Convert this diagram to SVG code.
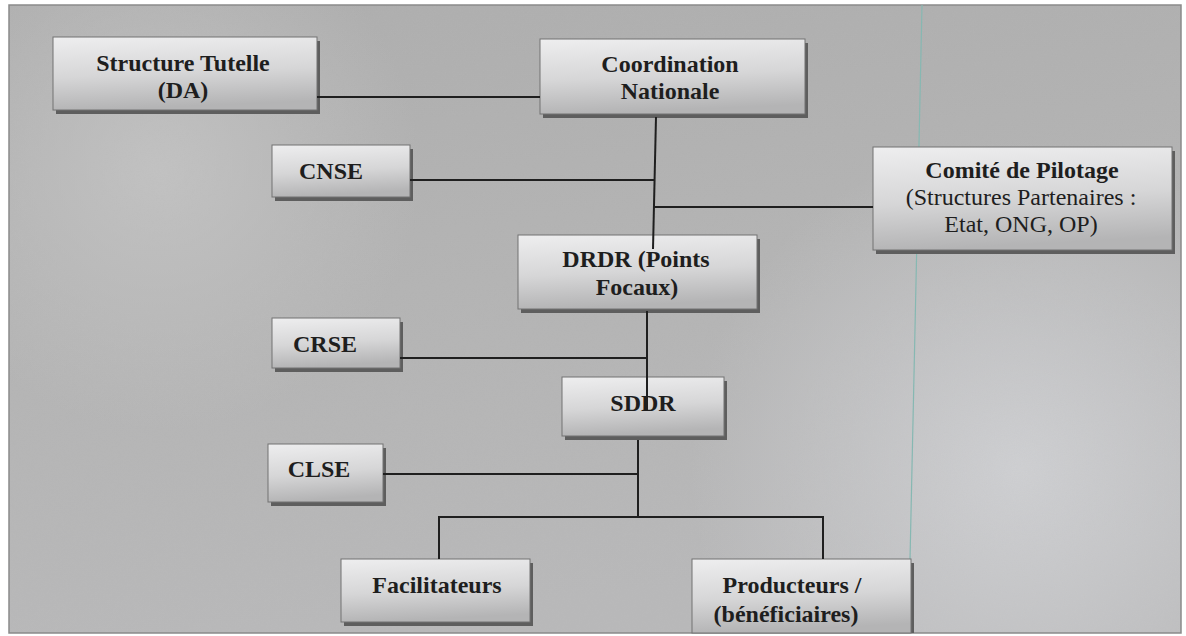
<svg xmlns="http://www.w3.org/2000/svg" width="1186" height="636" viewBox="0 0 1186 636">
  <defs>
    <linearGradient id="bg" x1="0" y1="0" x2="0.2" y2="1">
      <stop offset="0" stop-color="#adadad"/>
      <stop offset="0.5" stop-color="#b3b3b3"/>
      <stop offset="1" stop-color="#b8b8b9"/>
    </linearGradient>
    <radialGradient id="bglight" cx="1020" cy="470" r="330" gradientUnits="userSpaceOnUse">
      <stop offset="0" stop-color="#d2d3d6" stop-opacity="0.9"/>
      <stop offset="1" stop-color="#d2d3d6" stop-opacity="0"/>
    </radialGradient>
    <radialGradient id="bgleft" cx="160" cy="170" r="260" gradientUnits="userSpaceOnUse">
      <stop offset="0" stop-color="#c6c6c6" stop-opacity="0.8"/>
      <stop offset="1" stop-color="#c6c6c6" stop-opacity="0"/>
    </radialGradient>
    <linearGradient id="boxfill" x1="0" y1="0" x2="0.15" y2="1">
      <stop offset="0" stop-color="#eeeeef"/>
      <stop offset="0.55" stop-color="#d6d6d7"/>
      <stop offset="1" stop-color="#b4b4b5"/>
    </linearGradient>
    <filter id="grain" x="0" y="0" width="100%" height="100%">
      <feTurbulence type="fractalNoise" baseFrequency="0.9" numOctaves="2" seed="3" result="n"/>
      <feColorMatrix type="matrix" values="0 0 0 0 0.5  0 0 0 0 0.5  0 0 0 0 0.5  0 0 0 0.18 0" in="n"/>
      <feComposite operator="in" in2="SourceGraphic"/>
    </filter>
  </defs>
  <style>
    .box { fill: url(#boxfill); stroke: #727272; stroke-width: 1; }
    .shadow { fill: #5e5e5e; }
    .t { font-family: "Liberation Serif", "Times New Roman", serif; font-size: 24px; fill: #1e1e1e; text-anchor: middle; }
    .b { font-weight: bold; }
    .conn { stroke: #1f1f1f; stroke-width: 2; fill: none; }
  </style>

  <rect x="0" y="0" width="1186" height="636" fill="#ffffff"/>
  <g id="background">
    <rect x="9" y="5" width="1172" height="628" fill="url(#bg)"/>
    <rect x="9" y="5" width="1172" height="628" fill="url(#bgleft)"/>
    <rect x="9" y="5" width="1172" height="628" fill="url(#bglight)"/>
    <rect x="9" y="5" width="1172" height="628" fill="#808080" filter="url(#grain)"/>
    <rect x="9" y="5" width="1172" height="628" fill="none" stroke="#8a8a8a" stroke-width="1.5"/>
    <line x1="922" y1="5" x2="910" y2="560" stroke="#86b8b2" stroke-width="1.2"/>
  </g>

  <g id="node-structure-tutelle">
    <rect class="shadow" x="56" y="41" width="264" height="73"/>
    <rect class="box" x="53" y="37" width="264" height="73"/>
    <text class="t b" x="183" y="71">Structure Tutelle</text>
    <text class="t b" x="183" y="98">(DA)</text>
  </g>

  <g id="node-coordination">
    <rect class="shadow" x="543" y="43" width="265" height="75"/>
    <rect class="box" x="540" y="39" width="265" height="75"/>
    <text class="t b" x="670" y="72">Coordination</text>
    <text class="t b" x="670" y="99">Nationale</text>
  </g>

  <g id="node-cnse">
    <rect class="shadow" x="275" y="149" width="138" height="52"/>
    <rect class="box" x="272" y="145" width="138" height="52"/>
    <text class="t b" x="331" y="179">CNSE</text>
  </g>

  <g id="node-comite">
    <rect class="shadow" x="876" y="151" width="299" height="103"/>
    <rect class="box" x="873" y="147" width="299" height="103"/>
    <text class="t b" x="1022" y="178">Comité de Pilotage</text>
    <text class="t" x="1021" y="205">(Structures Partenaires :</text>
    <text class="t" x="1021" y="232">Etat, ONG, OP)</text>
  </g>

  <g id="node-drdr">
    <rect class="shadow" x="521" y="239" width="239" height="74"/>
    <rect class="box" x="518" y="235" width="239" height="74"/>
    <text class="t b" x="636" y="267">DRDR (Points</text>
    <text class="t b" x="637" y="295">Focaux)</text>
  </g>

  <g id="node-crse">
    <rect class="shadow" x="275" y="322" width="128" height="50"/>
    <rect class="box" x="272" y="318" width="128" height="50"/>
    <text class="t b" x="325" y="352">CRSE</text>
  </g>

  <g id="node-sddr">
    <rect class="shadow" x="565" y="381" width="162" height="59"/>
    <rect class="box" x="562" y="377" width="162" height="59"/>
    <text class="t b" x="643" y="411">SDDR</text>
  </g>

  <g id="node-clse">
    <rect class="shadow" x="271" y="448" width="115" height="58"/>
    <rect class="box" x="268" y="444" width="115" height="58"/>
    <text class="t b" x="319" y="477">CLSE</text>
  </g>

  <g id="node-facilitateurs">
    <rect class="shadow" x="344" y="563" width="189" height="63"/>
    <rect class="box" x="341" y="559" width="189" height="63"/>
    <text class="t b" x="437" y="593">Facilitateurs</text>
  </g>

  <g id="node-producteurs">
    <rect class="shadow" x="695" y="563" width="219" height="70"/>
    <rect class="box" x="692" y="559" width="219" height="74"/>
    <text class="t b" x="792" y="593">Producteurs /</text>
    <text class="t b" x="786" y="622">(bénéficiaires)</text>
  </g>

  <g id="connectors">
    <line class="conn" x1="317" y1="97" x2="540" y2="97"/>
    <line class="conn" x1="656" y1="117" x2="653" y2="249"/>
    <line class="conn" x1="410" y1="180" x2="655" y2="180"/>
    <line class="conn" x1="654" y1="207" x2="873" y2="207"/>
    <line class="conn" x1="647" y1="311" x2="647" y2="410"/>
    <line class="conn" x1="400" y1="358" x2="647" y2="358"/>
    <line class="conn" x1="638" y1="440" x2="638" y2="517"/>
    <line class="conn" x1="383" y1="474" x2="638" y2="474"/>
    <polyline class="conn" points="439,559 439,517 823,517 823,559"/>
  </g>
</svg>
